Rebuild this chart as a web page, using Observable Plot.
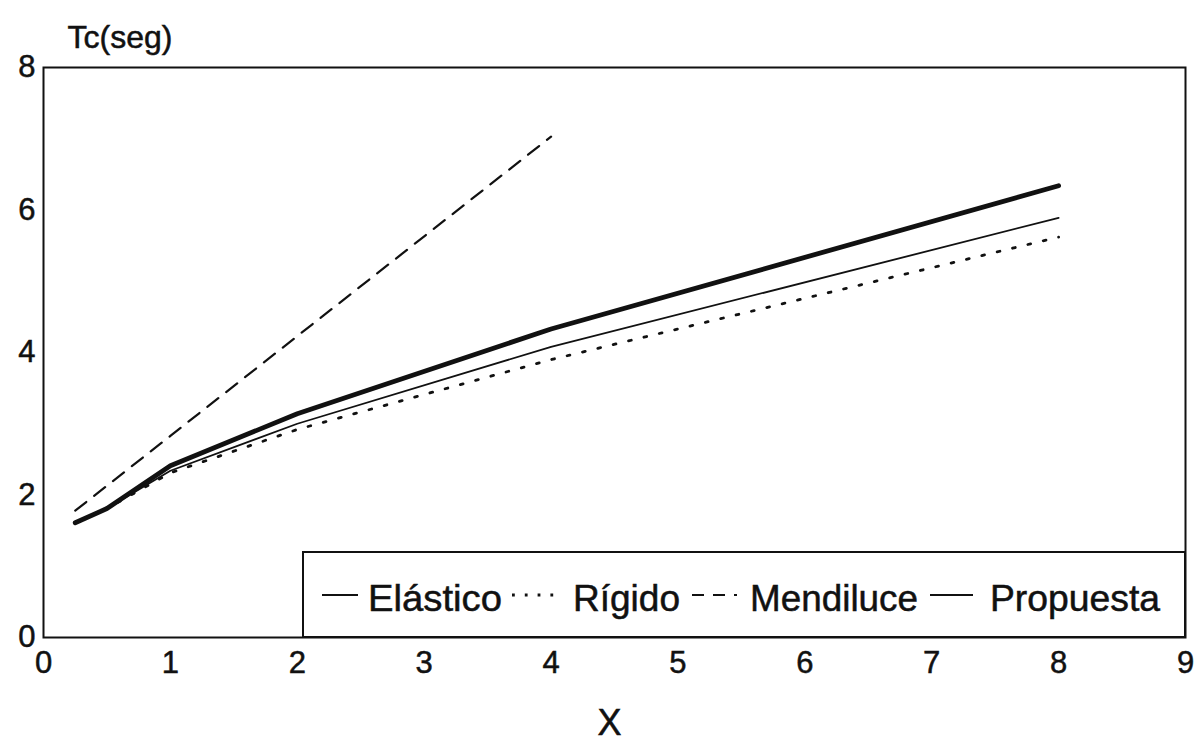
<!DOCTYPE html>
<html>
<head>
<meta charset="utf-8">
<script src="https://cdn.jsdelivr.net/npm/d3@7"></script>
<script src="https://cdn.jsdelivr.net/npm/@observablehq/plot@0.6"></script>
<style>
  html, body { margin: 0; padding: 0; background: #fff; }
  #chart { width: 1202px; height: 747px; }
  #chart svg text { stroke: #111; stroke-width: 0.5px; }
</style>
</head>
<body>
<div id="chart"></div>
<script>
// ---- data ----
const xs = [0.25, 0.5, 1, 2, 4, 8];
const elastico  = [1.61, 1.81, 2.34, 3.00, 4.08, 5.89];
const rigido    = [1.61, 1.81, 2.31, 2.92, 3.90, 5.62];
const propuesta = [1.61, 1.81, 2.41, 3.14, 4.33, 6.34];
const xsMendiluce = [0.25, 0.5, 1, 2, 4];
const mendiluce = [1.78, 2.13, 2.83, 4.23, 7.03];

const xTicks = [0, 1, 2, 3, 4, 5, 6, 7, 8, 9];
const yTicks = [0, 2, 4, 6, 8];
const seriesNames = ["Elástico", "Rígido", "Mendiluce", "Propuesta"];
const yLabel = "Tc(seg)";
const xLabel = "X";

const toRows = (xv, yv) => xv.map((x, i) => ({x, y: yv[i]}));
const rowsElastico = toRows(xs, elastico);
const rowsRigido = toRows(xs, rigido);
const rowsPropuesta = toRows(xs, propuesta);
const rowsMendiluce = toRows(xsMendiluce, mendiluce);

const ink = "#111";
const font = "'Liberation Sans', Arial, Helvetica, sans-serif";

const svg = Plot.plot({
  width: 1202,
  height: 747,
  marginLeft: 43,
  marginRight: 17,
  marginTop: 67,
  marginBottom: 110,
  style: { fontFamily: font, color: ink, background: "#fff", overflow: "visible" },
  x: { domain: [0, 9] },
  y: { domain: [0, 8] },
  marks: [
    Plot.line(rowsMendiluce, { x: "x", y: "y", stroke: ink, strokeWidth: 2.2, strokeDasharray: "14,10" }),
    Plot.line(rowsRigido, { x: "x", y: "y", stroke: ink, strokeWidth: 2.8, strokeDasharray: "2.8,13" }),
    Plot.line(rowsElastico, { x: "x", y: "y", stroke: ink, strokeWidth: 1.8 }),
    Plot.line(rowsPropuesta, { x: "x", y: "y", stroke: ink, strokeWidth: 4.8 }),
    Plot.frame({ stroke: ink, strokeWidth: 2 }),
    Plot.axisX({ ticks: xTicks, tickSize: 0, tickPadding: 13, label: null, fontSize: 31, tickFormat: d => String(d) }),
    Plot.axisY({ ticks: yTicks, tickSize: 0, tickPadding: 8, label: null, fontSize: 31, tickFormat: d => String(d) }),
    Plot.text([yLabel], { frameAnchor: "top-left", dx: 24, dy: -42, textAnchor: "start", fontSize: 32, fill: ink }),
    Plot.text([xLabel], { frameAnchor: "bottom", dx: -5, dy: 97, fontSize: 36, fill: ink })
  ]
});

// ---- legend box inside the plot area (bottom-right) ----
const g = d3.select(svg).append("g")
  .attr("font-family", font).attr("font-size", 36).attr("fill", ink).attr("text-anchor", "start");
const boxL = 303, boxT = 552, boxR = 1185, boxB = 637, midY = 598;
g.append("rect").attr("x", boxL).attr("y", boxT).attr("width", boxR - boxL).attr("height", boxB - boxT)
  .attr("fill", "#fff").attr("stroke", ink).attr("stroke-width", 2);
const styles = [
  { dash: null, w: 1.8 },
  { dash: "2.8,10", w: 2.8 },
  { dash: "12,9", w: 2.2 },
  { dash: null, w: 1.8 }
];
const symStart = [322, 512, 692, 930];
const symEnd = [358, 555, 737, 973];
const textStart = [368, 573, 750, 990];
const textLen = [134, 107, 168, 170];
seriesNames.forEach((name, i) => {
  g.append("line").attr("x1", symStart[i]).attr("x2", symEnd[i]).attr("y1", midY - 3).attr("y2", midY - 3)
    .attr("stroke", ink).attr("stroke-width", styles[i].w).attr("stroke-dasharray", styles[i].dash);
  g.append("text").attr("x", textStart[i]).attr("y", midY).attr("dy", "0.35em")
    .attr("textLength", textLen[i]).attr("lengthAdjust", "spacingAndGlyphs").text(name);
});

document.getElementById("chart").appendChild(svg);
</script>
</body>
</html>
